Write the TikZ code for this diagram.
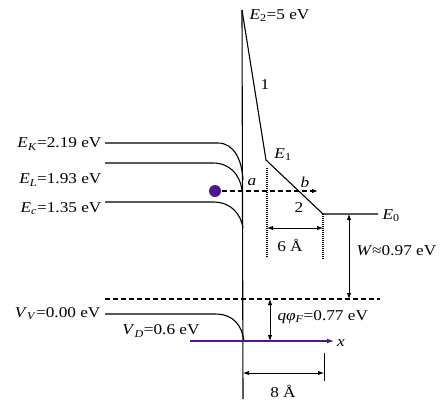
\documentclass[tikz,border=0pt]{standalone}
\usepackage{fontspec}
\setmainfont{Liberation Serif}[FakeStretch=1.15]
\usetikzlibrary{arrows.meta}
\definecolor{elec}{RGB}{75,25,140}
\newcommand{\qty}[2]{\textit{#1}\textsubscript{\textit{#2}}}
\newcommand{\qtn}[2]{\textit{#1}\textsubscript{#2}}
\begin{document}
\begin{tikzpicture}[x=1pt,y=-1pt,line width=1.1pt,
  font=\fontsize{15}{17}\selectfont,
  txt/.style={inner sep=0pt},
  dimarrow/.style={{Latex[length=6pt,width=4.5pt]}-{Latex[length=6pt,width=4.5pt]},line width=0.9pt},
  dotline/.style={line width=1.1pt,dash pattern=on 1pt off 1pt},
  dashline/.style={dash pattern=on 5pt off 3pt}]
\useasboundingbox (0,0) rectangle (444,399);
% interface and barrier
\coordinate (top) at (242,10);
\coordinate (bot) at (243,399);
\coordinate (E1c) at (266,160);
\coordinate (E0c) at (323,214);
\coordinate (E0r) at (378,214);
\draw (top) -- (bot);
\draw (top) -- (E1c) -- (E0c) -- (E0r);
% bands
\draw (105,143) -- (218,143) .. controls (234,143) and (242,160) .. (243,180);
\draw (105,163) -- (213,163) .. controls (230,163) and (240,175) .. (242,190);
\draw (105,202) -- (213,202) .. controls (232,202) and (241,215) .. (243,228);
\draw (105,314) -- (215,314) .. controls (234,314) and (242,326) .. (244,341);
% Fermi dashed line
\coordinate (fl) at (105,299);
\coordinate (fr) at (380,299);
\draw[dashline] (fl) -- (fr);
% electron
\node[circle,fill=elec,inner sep=0pt,minimum size=12pt] (el) at (215,191) {};
\coordinate (bend) at (318,191);
\draw[dashline,-{Latex[length=6pt,width=4.5pt]}] (el) -- (bend);
% dotted verticals
\coordinate (d1t) at (267,168); \coordinate (d1b) at (267,258);
\coordinate (d2b) at (323,260);
\draw[dotline] (d1t) -- (d1b);
\draw[dotline] (E0c) -- (d2b);
\coordinate (s6l) at (267,228); \coordinate (s6r) at (323,228);
\draw[dimarrow] (s6l) -- (s6r);
% W arrow
\coordinate (wt) at (349,214); \coordinate (wb) at (349,299);
\draw[dimarrow] (wt) -- (wb);
% q phi arrow
\coordinate (qt) at (270,299); \coordinate (qb) at (270,341);
\draw[dimarrow] (qt) -- (qb);
% x axis
\coordinate (xl) at (190,341); \coordinate (xr) at (334,341);
\draw[elec,line width=1.3pt,-{Latex[length=7pt,width=5pt]}] (xl) -- (xr);
% 8 A
\coordinate (t8t) at (324,353); \coordinate (t8b) at (324,381);
\draw[line width=0.9pt] (t8t) -- (t8b);
\coordinate (s8l) at (243,373); \coordinate (s8r) at (324,373);
\draw[dimarrow] (s8l) -- (s8r);
% labels
\node[txt,anchor=west] (lE2) at (249,16) {\qtn{E}{2}=5 eV};
\node[txt] (l1) at (265,85) {1};
\node[txt] (lE1) at (283,155) {\qtn{E}{1}};
\node[txt,anchor=east] (lEK) at (102,144) {\qty{E}{K}=2.19 eV};
\node[txt,anchor=east] (lEL) at (102,180) {\qty{E}{L}=1.93 eV};
\node[txt,anchor=east] (lEc) at (102,209) {\qty{E}{c}=1.35 eV};
\node[txt] (la) at (252,182) {\textit{a}};
\node[txt] (lb) at (305,182) {\textit{b}};
\node[txt] (l2) at (299,208) {2};
\node[txt,anchor=west] (lE0) at (382,216) {\qtn{E}{0}};
\node[txt] (l6) at (290,245) {6 Å};
\node[txt,anchor=west] (lW) at (356,251) {\textit{W}≈0.97 eV};
\node[txt,anchor=east] (lVV) at (101,314) {\qty{V}{V}=0.00 eV};
\node[txt] (lVD) at (161,331) {\qty{V}{D}=0.6 eV};
\node[txt,anchor=west] (lq) at (277,317) {\textit{qφ}\textsubscript{\textit{F}}=0.77 eV};
\node[txt] (lx) at (341,343) {\textit{x}};
\node[txt] (l8) at (283,391) {8 Å};
\end{tikzpicture}
\end{document}
